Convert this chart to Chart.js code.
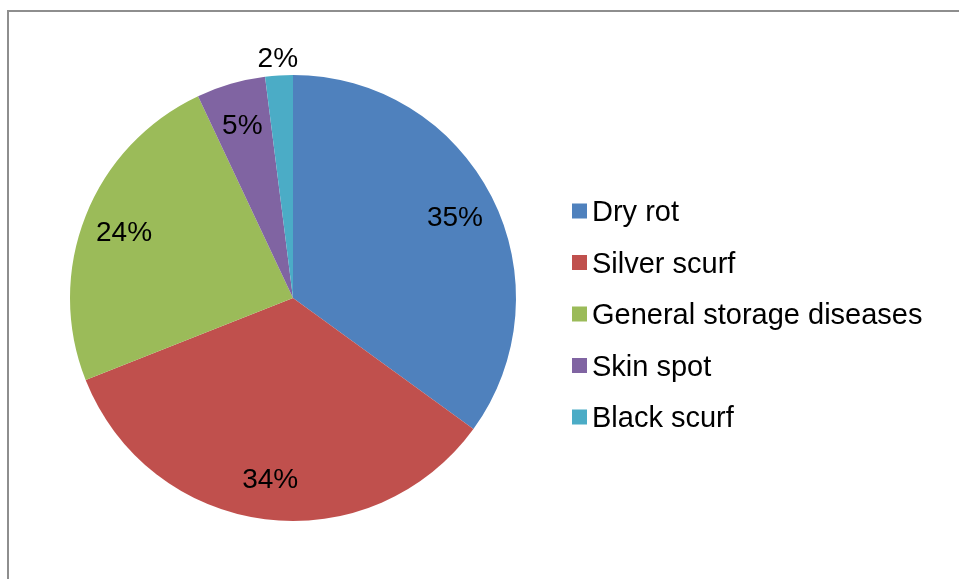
<!DOCTYPE html>
<html>
<head>
<meta charset="utf-8">
<title>Storage diseases</title>
<script src="https://cdn.jsdelivr.net/npm/chart.js@4/dist/chart.umd.min.js"></script>
<style>
  html, body { margin: 0; padding: 0; background: #ffffff; }
  #wrap { position: relative; width: 959px; height: 579px; overflow: hidden; }
  #frame {
    position: absolute; left: 7px; top: 10px; right: -10px; bottom: -10px;
    border-left: 2px solid #8e8e8e; border-top: 2px solid #8e8e8e;
    box-sizing: border-box; pointer-events: none;
  }
  #pie { position: absolute; left: 0; top: 0; }
</style>
</head>
<body>
<div id="wrap">
  <canvas id="pie" width="959" height="579"></canvas>
  <div id="frame"></div>
</div>
<script>
// Share of each disease (percent)
const categories = ['Dry rot', 'Silver scurf', 'General storage diseases', 'Skin spot', 'Black scurf'];
const shares = [35, 34, 24, 5, 2];
const colors = ['#4F81BD', '#C0504D', '#9BBB59', '#8064A2', '#4BACC6'];

const FONT = '"Liberation Sans", Arial, Helvetica, sans-serif';
const LABEL_SIZE = 28;
const LEGEND_SIZE = 29;

// Percent labels: inside the slice, or just outside for very thin slices
const sliceLabels = {
  id: 'sliceLabels',
  afterDatasetsDraw(chart) {
    const ctx = chart.ctx;
    const meta = chart.getDatasetMeta(0);
    const data = chart.data.datasets[0].data;
    const total = data.reduce((a, b) => a + b, 0);
    ctx.save();
    ctx.font = LABEL_SIZE + 'px ' + FONT;
    ctx.fillStyle = '#000000';
    ctx.textAlign = 'center';
    ctx.textBaseline = 'alphabetic';
    meta.data.forEach((arc, i) => {
      const p = arc.getProps(['x', 'y', 'startAngle', 'endAngle', 'outerRadius'], true);
      const mid = (p.startAngle + p.endAngle) / 2;
      const pct = data[i] / total * 100;
      const r = p.outerRadius * (pct < 3 ? 1.085 : 0.815);
      const cx = p.x + Math.cos(mid) * r;
      const cy = p.y + Math.sin(mid) * r;
      // centre the digits vertically on the anchor point
      ctx.fillText(Math.round(pct) + '%', cx, cy + LABEL_SIZE * 0.36);
    });
    ctx.restore();
  }
};

// Legend on the right: colour square followed by the category name
const sideLegend = {
  id: 'sideLegend',
  afterDraw(chart) {
    const ctx = chart.ctx;
    const labels = chart.data.labels;
    const bg = chart.data.datasets[0].backgroundColor;
    const boxX = 572, box = 15, textX = 592, firstY = 211, step = 51.5;
    ctx.save();
    ctx.font = LEGEND_SIZE + 'px ' + FONT;
    ctx.textAlign = 'left';
    ctx.textBaseline = 'alphabetic';
    labels.forEach((lab, i) => {
      const y = firstY + i * step;
      ctx.fillStyle = bg[i];
      ctx.fillRect(boxX, y - box / 2, box, box);
      ctx.fillStyle = '#000000';
      ctx.fillText(lab, textX, y + LEGEND_SIZE * 0.36);
    });
    ctx.restore();
  }
};

new Chart(document.getElementById('pie'), {
  type: 'pie',
  data: {
    labels: categories,
    datasets: [{
      data: shares,
      backgroundColor: colors,
      borderWidth: 0
    }]
  },
  options: {
    responsive: false,
    animation: false,
    layout: { padding: { left: 70, top: 75, right: 443, bottom: 58 } },
    plugins: {
      legend: { display: false },
      tooltip: { enabled: false }
    }
  },
  plugins: [sliceLabels, sideLegend]
});
</script>
</body>
</html>
